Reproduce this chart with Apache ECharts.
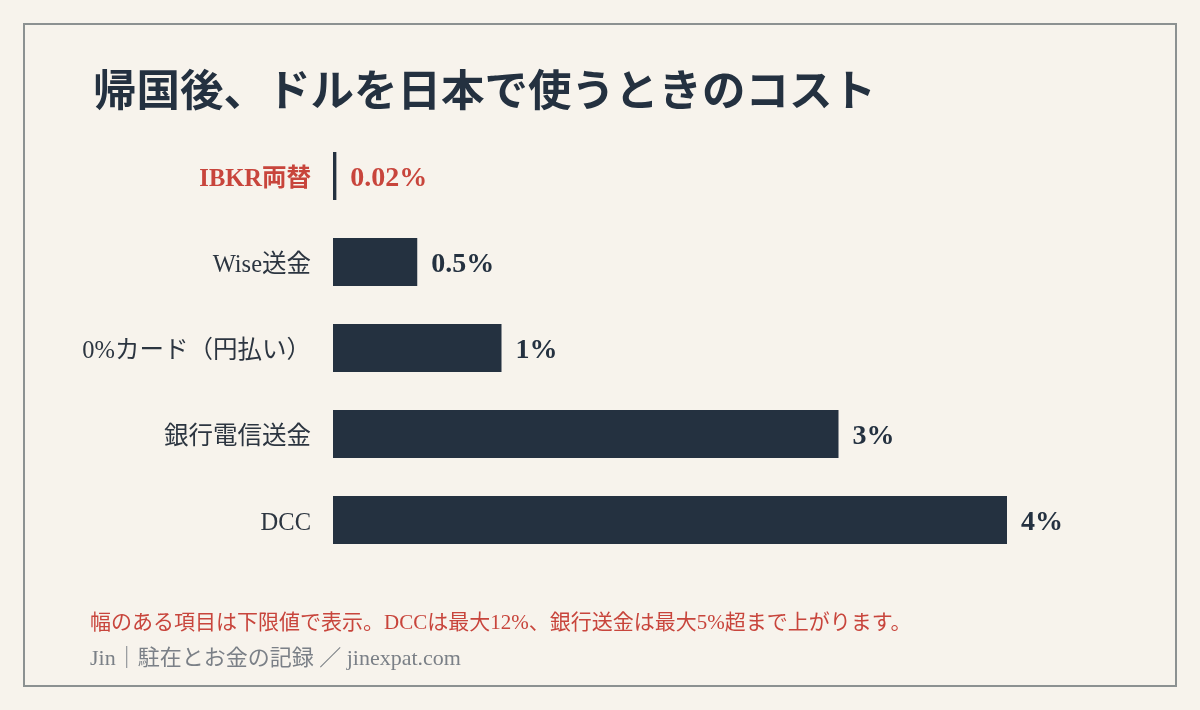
<!DOCTYPE html>
<html lang="ja">

<head>
    <meta charset="UTF-8">
    <title>帰国後、ドルを日本で使うときのコスト</title>
    <script src="https://cdn.jsdelivr.net/npm/echarts@6/dist/echarts.min.js"></script>
    <style>
        * {
            padding: 0;
            margin: 0;
        }

        html,
        body {
            width: 100%;
            height: 100%;
            background: #f7f3ec;
        }

        #main {
            width: 1200px;
            height: 710px;
        }
    </style>
</head>

<body>
    <div id="main"></div>
</body>

</html>
<script>
    // データ
    let categories = ['IBKR両替', 'Wise送金', '0%カード（円払い）', '銀行電信送金', 'DCC'];
    let costs = [0.02, 0.5, 1, 3, 4];
    let highlight = 'IBKR両替';

    let navy = '#243140';
    let red = '#c8453c';
    let font = '"Liberation Serif", "Noto Sans CJK JP", serif';

    var myChart = echarts.init(document.getElementById('main'));

    let seriesData = costs.map(function (v, i) {
        let item = { value: v };
        if (categories[i] === highlight) {
            item.label = { color: red };
        }
        return item;
    });

    option = {
        backgroundColor: '#f7f3ec',
        animation: false,
        textStyle: { fontFamily: font },
        title: {
            text: '帰国後、ドルを日本で使うときのコスト',
            left: 88,
            top: 68,
            textStyle: {
                fontFamily: font,
                fontSize: 43.5,
                fontWeight: 'bold',
                color: navy
            }
        },
        grid: {
            left: 333,
            right: 193,
            top: 133,
            bottom: 147
        },
        xAxis: {
            type: 'value',
            min: 0,
            max: 4,
            show: false
        },
        yAxis: {
            type: 'category',
            data: categories,
            inverse: true,
            axisLine: { show: false },
            axisTick: { show: false },
            axisLabel: {
                margin: 22,
                fontSize: 24.5,
                color: '#2c3540',
                fontFamily: font,
                padding: [8, 0, 0, 0],
                formatter: function (val) {
                    return val === highlight ? '{hl|' + val + '}' : val;
                },
                rich: {
                    hl: {
                        color: red,
                        fontWeight: 'bold',
                        fontSize: 24.5,
                        fontFamily: font
                    }
                }
            }
        },
        series: [
            {
                type: 'bar',
                data: seriesData,
                barWidth: 48,
                itemStyle: { color: navy },
                label: {
                    show: true,
                    position: 'right',
                    distance: 14,
                    offset: [0, 3],
                    fontSize: 28,
                    fontWeight: 'bold',
                    color: navy,
                    fontFamily: font,
                    formatter: function (p) {
                        return p.value + '%';
                    }
                }
            }
        ],
        graphic: [
            {
                type: 'rect',
                shape: { x: 24, y: 24, width: 1152, height: 662 },
                style: { fill: 'none', stroke: '#8c9191', lineWidth: 2 },
                silent: true
            },
            {
                type: 'text',
                left: 90,
                top: 613,
                style: {
                    text: '幅のある項目は下限値で表示。DCCは最大12%、銀行送金は最大5%超まで上がります。',
                    fill: red,
                    font: '21px ' + font
                }
            },
            {
                type: 'text',
                left: 90,
                top: 648,
                style: {
                    text: 'Jin｜駐在とお金の記録 ／ jinexpat.com',
                    fill: '#7b8087',
                    font: '22px ' + font
                }
            }
        ]
    };

    myChart.setOption(option);
</script>
